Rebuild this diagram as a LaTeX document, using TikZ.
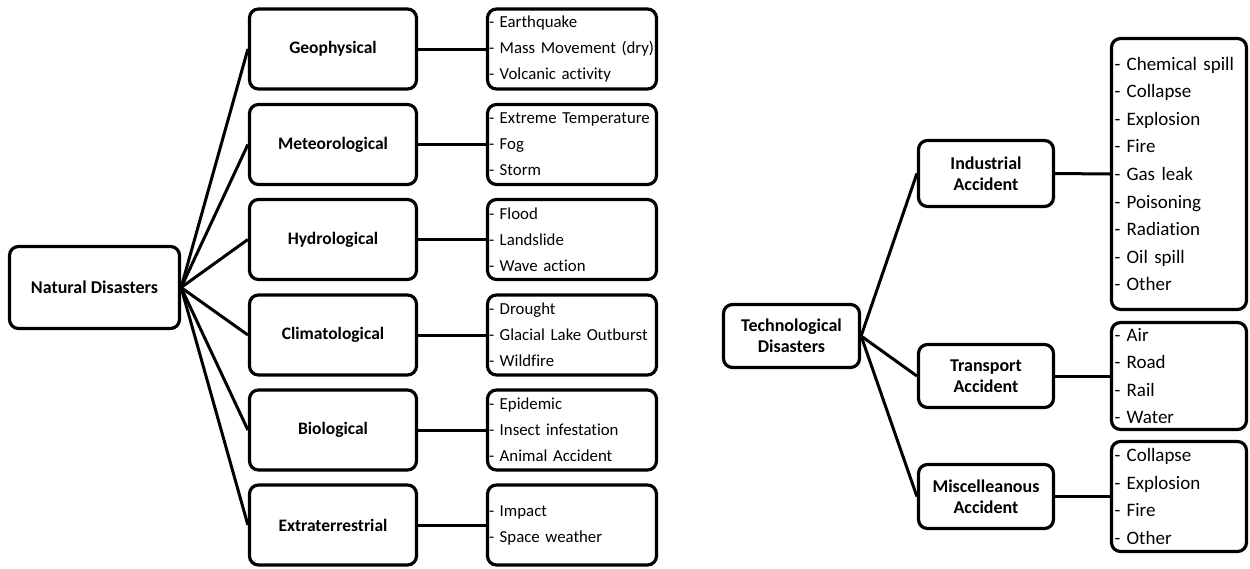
\documentclass[tikz,border=0pt]{standalone}
\usepackage{fontspec}
\setmainfont{Carlito}[Ligatures=NoCommon]
\newfontfamily\itemfont{Carlito}[Ligatures=NoCommon, WordSpace=0.72]
\begin{document}
\begin{tikzpicture}[x=1pt,y=-1pt,
  box/.style={draw=black, line width=3.2pt, rounded corners=9pt, inner sep=2pt},
  link/.style={draw=black, line width=3pt},
  root/.style={box, minimum width=170pt, minimum height=82pt, align=center, font=\bfseries\fontsize{18}{21}\selectfont},
  cat/.style={box, minimum width=167pt, minimum height=80pt, align=center, font=\bfseries\fontsize{17.5}{21}\selectfont},
  lleaf/.style={box, minimum width=169pt, minimum height=80pt, text width=166pt, align=left, inner xsep=1.5pt, font=\itemfont\fontsize{16.8}{26}\selectfont},
  rcat/.style={box, minimum width=135pt, align=center, font=\bfseries\fontsize{18}{21}\selectfont},
  rleaf/.style={box, minimum width=135pt, text width=129pt, align=left, inner xsep=3pt, font=\itemfont\fontsize{19}{27.6}\selectfont}]
\useasboundingbox (0,0) rectangle (1250,568);

% Natural disasters
\node[root] (nd) at (94.5,287.5) {Natural Disasters};
\node[cat] (geo) at (333,49) {Geophysical};
\node[cat] (met) at (333,144.5) {Meteorological};
\node[cat] (hyd) at (333,239.5) {Hydrological};
\node[cat] (cli) at (333,335) {Climatological};
\node[cat] (bio) at (333,430) {Biological};
\node[cat] (ext) at (333,525) {Extraterrestrial};

\node[lleaf] (geoL) at (572,49) {\mbox{- Earthquake}\\\mbox{- Mass Movement (dry)}\\\mbox{- Volcanic activity}};
\node[lleaf] (metL) at (572,144.5) {\mbox{- Extreme Temperature}\\\mbox{- Fog}\\\mbox{- Storm}};
\node[lleaf] (hydL) at (572,239.5) {\mbox{- Flood}\\\mbox{- Landslide}\\\mbox{- Wave action}};
\node[lleaf] (cliL) at (572,335) {\mbox{- Drought}\\\mbox{- Glacial Lake Outburst}\\\mbox{- Wildfire}};
\node[lleaf] (bioL) at (572,430) {\mbox{- Epidemic}\\\mbox{- Insect infestation}\\\mbox{- Animal Accident}};
\node[lleaf] (extL) at (572,525) {\mbox{- Impact}\\\mbox{- Space weather}};

\foreach \c in {geo,met,hyd,cli,bio,ext}{
  \draw[link] (nd.east) -- (\c.west);
  \draw[link] (\c.east) -- (\c L.west);
}

% Technological disasters
\node[rcat, minimum width=136pt, minimum height=63pt] (tech) at (791.5,336) {Technological\\Disasters};
\node[rcat, minimum height=66pt] (ind) at (986,173.5) {Industrial\\Accident};
\node[rcat, minimum height=63pt] (tra) at (986,376) {Transport\\Accident};
\node[rcat, minimum height=64pt] (mis) at (986,496.5) {Miscelleanous\\Accident};

\node[rleaf, minimum height=271pt] (indL) at (1179,174) {\mbox{- Chemical spill}\\\mbox{- Collapse}\\\mbox{- Explosion}\\\mbox{- Fire}\\\mbox{- Gas leak}\\\mbox{- Poisoning}\\\mbox{- Radiation}\\\mbox{- Oil spill}\\\mbox{- Other}};
\node[rleaf, minimum height=107pt] (traL) at (1179,376) {\mbox{- Air}\\\mbox{- Road}\\\mbox{- Rail}\\\mbox{- Water}};
\node[rleaf, minimum height=110pt] (misL) at (1179,496.5) {\mbox{- Collapse}\\\mbox{- Explosion}\\\mbox{- Fire}\\\mbox{- Other}};

\foreach \c in {ind,tra,mis}{
  \draw[link] (tech.east) -- (\c.west);
  \draw[link] (\c.east) -- (\c L.west);
}
\end{tikzpicture}
\end{document}
